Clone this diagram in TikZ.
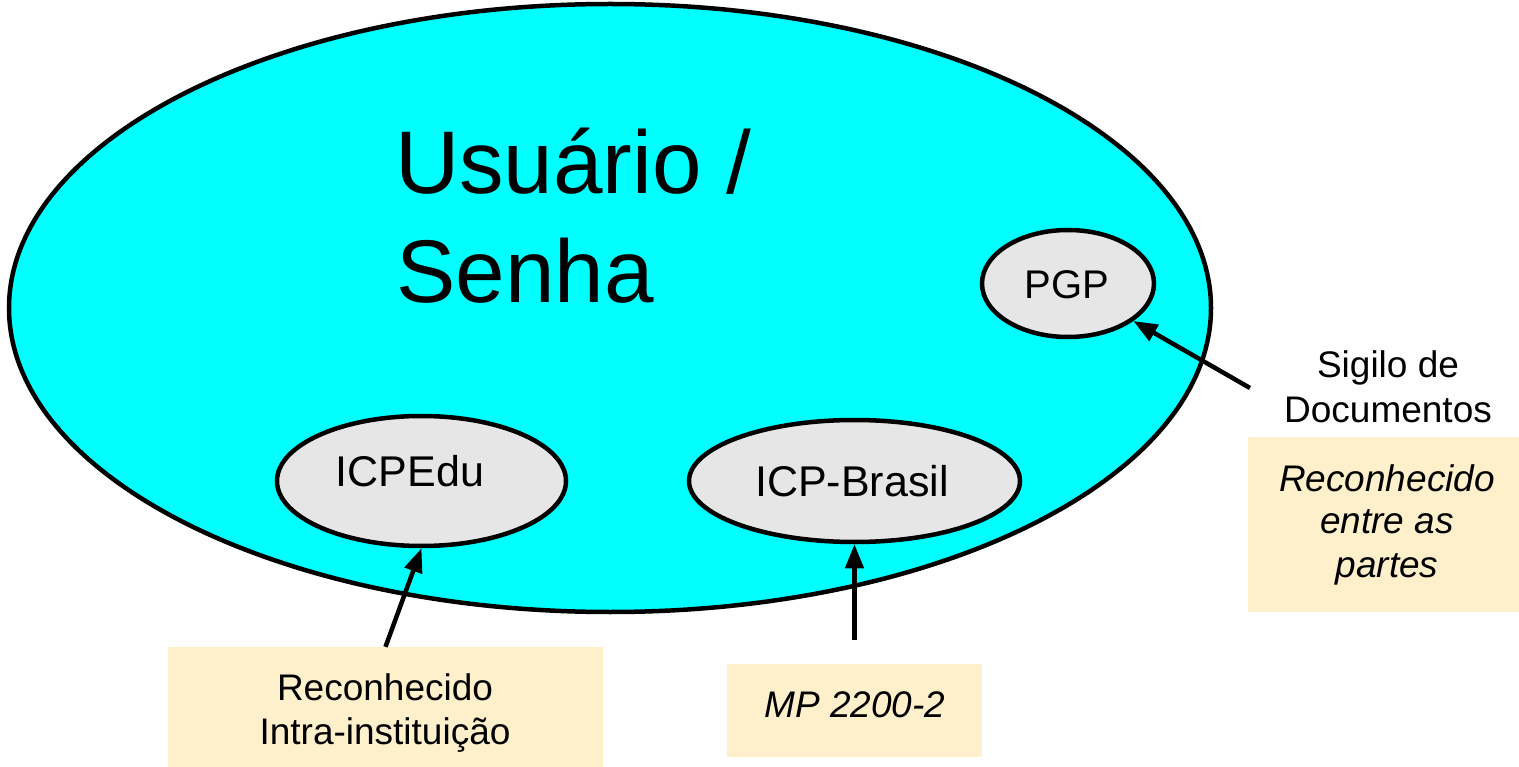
\documentclass[tikz,border=0pt]{standalone}
\usepackage{fontspec}
\setmainfont{Liberation Sans}
\usetikzlibrary{shapes.geometric,arrows.meta}
\definecolor{cyanfill}{HTML}{00FFFF}
\definecolor{greyfill}{HTML}{E6E6E6}
\definecolor{notefill}{HTML}{FFF0CC}
\begin{document}
\begin{tikzpicture}[x=1pt,y=-1pt,
  bigell/.style={ellipse, draw, line width=4.5pt, fill=cyanfill, inner sep=0pt},
  smallell/.style={ellipse, draw, line width=4.5pt, fill=greyfill, inner sep=0pt},
  notebox/.style={rectangle, fill=notefill, inner sep=0pt},
  txt/.style={inner sep=0pt, anchor=base, font=\fontsize{37}{44}\selectfont},
  ittxt/.style={txt, font=\fontsize{37}{44}\selectfont\itshape},
  bigtxt/.style={inner sep=0pt, anchor=base west, font=\fontsize{89}{108}\selectfont},
  arr/.style={line width=4.5pt, -{Triangle[length=24pt,width=18pt]}}]
\useasboundingbox (0,0) rectangle (1519,767);

% main ellipse
\node[bigell, minimum width=1202pt, minimum height=608pt] (user) at (610,308) {};
\node[bigtxt] (usuario) at (395,194) {Usuário /};
\node[bigtxt] (senha) at (396,303) {Senha};

% inner ellipses
\node[smallell, minimum width=172pt, minimum height=107pt] (pgp) at (1068,283.5) {};
\node[txt, font=\fontsize{40}{48}\selectfont] (pgptxt) at (1067,299) {PGP};

\node[smallell, minimum width=289pt, minimum height=130pt] (icpedu) at (421.5,481) {};
\node[txt, font=\fontsize{43}{50}\selectfont] (icpedutxt) at (410,486) {ICPEdu};

\node[smallell, minimum width=331pt, minimum height=122pt] (icpbr) at (854.5,481) {};
\node[txt, font=\fontsize{43}{50}\selectfont] (icpbrtxt) at (852,496) {ICP-Brasil};

% note boxes
\node[notebox, minimum width=435pt, minimum height=120pt] (intra) at (385.5,707) {};
\node[txt] (intra1) at (385,700) {Reconhecido};
\node[txt] (intra2) at (385,744) {Intra-instituição};

\node[notebox, minimum width=255pt, minimum height=93pt] (mp) at (854.5,710.5) {};
\node[ittxt] (mptxt) at (855,717) {MP 2200-2};

\node[notebox, minimum width=271pt, minimum height=175pt] (partes) at (1383.5,524.5) {};
\node[ittxt] (partes1) at (1387,491) {Reconhecido};
\node[ittxt] (partes2) at (1387,533) {entre as};
\node[ittxt] (partes3) at (1387,577) {partes};

\node[txt] (sig1) at (1388,378) {Sigilo de};
\node[txt] (sig2) at (1388,423) {Documentos};

% arrows
\coordinate (mptail) at (854.5,640);
\coordinate (sigtail) at (1250,388);
\draw[arr] (intra.north) -- (icpedu.south);
\draw[arr] (mptail) -- (icpbr.south);
\draw[arr] (sigtail) -- (pgp);
\end{tikzpicture}
\end{document}
